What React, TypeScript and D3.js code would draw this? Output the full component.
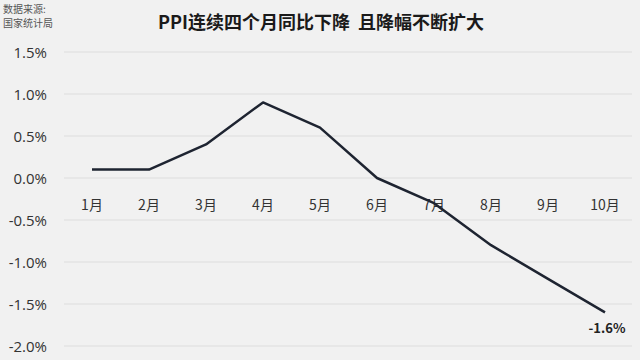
import React from "react";
import * as d3 from "d3";

const months = ["1月", "2月", "3月", "4月", "5月", "6月", "7月", "8月", "9月", "10月"];
const ppi = [0.1, 0.1, 0.4, 0.9, 0.6, 0.0, -0.3, -0.8, -1.2, -1.6];
const yTicks = [1.5, 1.0, 0.5, 0.0, -0.5, -1.0, -1.5, -2.0];
const title = "PPI连续四个月同比下降  且降幅不断扩大";
const sourceLines = ["数据来源:", "国家统计局"];
const endLabel = "-1.6%";

const W = 640;
const H = 360;
const FONT = "'Noto Sans CJK SC', 'Noto Sans', sans-serif";

export default function App() {
  const x = d3.scalePoint<string>().domain(months).range([92, 605]);
  const y = d3.scaleLinear().domain([-2.0, 1.5]).range([346, 52]);
  const line = d3
    .line<number>()
    .x((_, i) => x(months[i]) as number)
    .y((d) => y(d));
  const last = ppi.length - 1;

  return (
    <svg
      width={W}
      height={H}
      style={{ position: "absolute", left: 0, top: 0, background: "#f1f1f1" }}
      fontFamily={FONT}
    >
      <rect x={0} y={0} width={W} height={H} fill="#f1f1f1" />
      {yTicks.map((t) => (
        <g key={t}>
          <line x1={64} x2={632} y1={y(t)} y2={y(t)} stroke="#e3e3e3" strokeWidth={1.5} />
          <text
            x={47}
            y={y(t)}
            textAnchor="end"
            dominantBaseline="central"
            fontSize={15}
            fill="#333"
            fontFamily="'Open Sans', 'Noto Sans', sans-serif"
          >
            {`${t.toFixed(1)}%`}
          </text>
        </g>
      ))}
      {months.map((m) => (
        <text
          key={m}
          x={x(m) as number}
          y={204}
          textAnchor="middle"
          dominantBaseline="central"
          fontSize={14}
          fill="#333"
        >
          {m}
        </text>
      ))}
      <path d={line(ppi) || ""} fill="none" stroke="#1e2431" strokeWidth={2.5} strokeLinejoin="round" />
      <text
        x={(x(months[last]) as number) + 2}
        y={y(ppi[last]) + 15}
        textAnchor="middle"
        dominantBaseline="central"
        fontSize={13}
        fontWeight="bold"
        fill="#222"
      >
        {endLabel}
      </text>
      <text x={321} y={21} textAnchor="middle" dominantBaseline="central" fontSize={18} fontWeight="bold" fill="#1a1a1a" xmlSpace="preserve">
        {title}
      </text>
      {sourceLines.map((s, i) => (
        <text key={s} x={3} y={8.5 + i * 13.5} dominantBaseline="central" fontSize={10} fill="#555">
          {s}
        </text>
      ))}
    </svg>
  );
}
